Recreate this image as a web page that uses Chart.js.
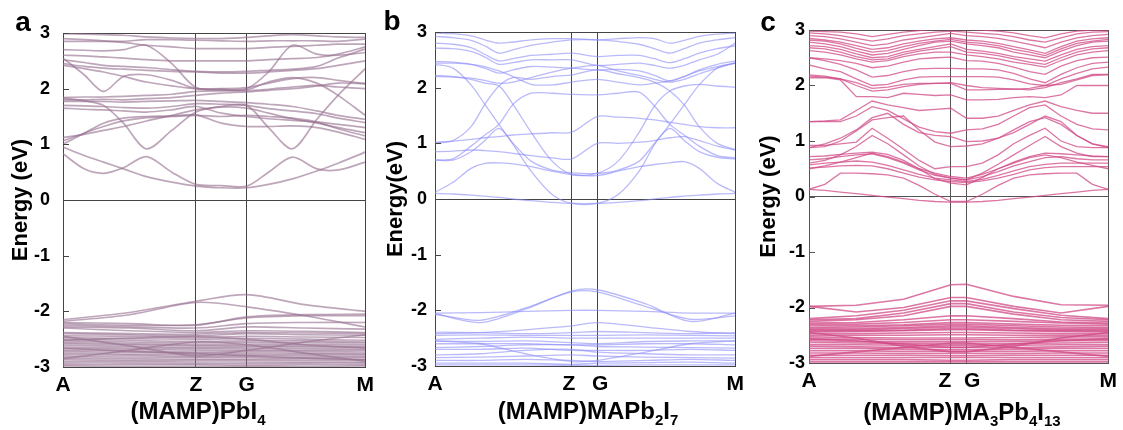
<!DOCTYPE html>
<html>
<head>
<meta charset="utf-8">
<script src="https://cdn.jsdelivr.net/npm/chart.js@4.4.1/dist/chart.umd.min.js"></script>
<style>
  body { margin: 0; background: #fff; font-family: 'Liberation Sans', Arial, sans-serif; }
  #page { position: relative; width: 1123px; height: 430px; overflow: hidden; }
  canvas { position: absolute; top: 0; }
  .letter { position: absolute; font-weight: bold; font-size: 28px; line-height: 1; transform: translate(-50%, -50%); }
  .caption { position: absolute; font-weight: bold; font-size: 24px; line-height: 1; transform: translate(-50%, -50%); white-space: nowrap; }
  .caption sub { font-size: 15px; vertical-align: -6px; line-height: 0; }
</style>
</head>
<body>
<div id="page">
  <canvas id="chartA" width="380" height="400" style="left:0"></canvas>
  <canvas id="chartB" width="375" height="400" style="left:375px"></canvas>
  <canvas id="chartC" width="373" height="400" style="left:750px"></canvas>
  <div class="letter" style="left:23px;top:22px">a</div>
  <div class="letter" style="left:392px;top:21px">b</div>
  <div class="letter" style="left:768px;top:22px">c</div>
  <div class="caption" style="left:198px;top:411px">(MAMP)PbI<sub>4</sub></div>
  <div class="caption" style="left:588px;top:411px">(MAMP)MAPb<sub>2</sub>I<sub>7</sub></div>
  <div class="caption" style="left:962px;top:412px">(MAMP)MA<sub>3</sub>Pb<sub>4</sub>I<sub>13</sub></div>
</div>
<script>
// ---- panel a : (MAMP)PbI4 ----
const aTicks = [0, 0.44, 0.608, 1];
const aLabels = ['A', 'Z', 'G', 'M'];
const aK = [0, 0.07, 0.134, 0.2, 0.276, 0.36, 0.44, 0.524, 0.608, 0.68, 0.759, 0.84, 0.91, 1];
const aConduction = [
  [0.95, 0.8, 0.68, 0.56, 0.42, 0.32, 0.25, 0.22, 0.22, 0.28, 0.38, 0.52, 0.66, 0.86],
  [0.83, 0.56, 0.48, 0.58, 0.78, 0.5, 0.28, 0.26, 0.25, 0.5, 0.77, 0.56, 0.54, 0.68],
  [1.83, 1.78, 1.7, 1.38, 0.92, 1.25, 1.58, 1.68, 1.7, 1.3, 0.92, 1.45, 1.88, 2.36],
  [1.12, 1.18, 1.25, 1.32, 1.42, 1.52, 1.62, 1.67, 1.65, 1.56, 1.46, 1.38, 1.3, 1.21],
  [1.06, 1.2, 1.32, 1.42, 1.48, 1.5, 1.52, 1.5, 1.52, 1.5, 1.47, 1.4, 1.28, 1.15],
  [1.0, 1.2, 1.38, 1.47, 1.5, 1.51, 1.53, 1.38, 1.32, 1.32, 1.33, 1.3, 1.22, 1.09],
  [1.84, 1.85, 1.85, 1.86, 1.88, 1.9, 1.95, 1.96, 1.96, 1.99, 2.03, 2.06, 2.03, 2.0],
  [1.8, 1.8, 1.81, 1.8, 1.82, 1.84, 1.88, 1.92, 1.94, 1.97, 2.0, 2.05, 2.1, 2.09],
  [1.77, 1.77, 1.77, 1.76, 1.77, 1.78, 1.79, 1.77, 1.75, 1.72, 1.68, 1.6, 1.52, 1.45],
  [1.7, 1.69, 1.68, 1.66, 1.65, 1.68, 1.73, 1.72, 1.7, 1.64, 1.6, 1.55, 1.47, 1.39],
  [1.65, 1.63, 1.62, 1.6, 1.58, 1.62, 1.68, 1.56, 1.5, 1.46, 1.43, 1.4, 1.36, 1.3],
  [2.55, 2.25, 1.95, 2.22, 2.25, 2.15, 2.0, 1.98, 1.98, 2.12, 2.2, 2.1, 1.88, 1.52],
  [2.7, 2.69, 2.68, 2.7, 2.78, 2.45, 2.02, 1.99, 2.0, 2.3, 2.78, 2.62, 2.6, 2.65],
  [2.45, 2.4, 2.37, 2.35, 2.33, 2.31, 2.3, 2.28, 2.28, 2.3, 2.33, 2.36, 2.42, 2.5],
  [2.52, 2.47, 2.42, 2.4, 2.38, 2.34, 2.31, 2.3, 2.31, 2.33, 2.35, 2.4, 2.55, 2.71],
  [2.6, 2.59, 2.57, 2.55, 2.52, 2.5, 2.5, 2.5, 2.5, 2.52, 2.54, 2.56, 2.62, 2.75],
  [2.9, 2.88, 2.86, 2.83, 2.78, 2.75, 2.72, 2.72, 2.72, 2.74, 2.76, 2.78, 2.8, 2.8],
  [2.85, 2.85, 2.85, 2.85, 2.88, 2.88, 2.87, 2.86, 2.85, 2.86, 2.86, 2.86, 2.85, 2.89],
  [2.99, 2.98, 2.97, 2.96, 2.93, 2.91, 2.9, 2.9, 2.92, 2.95, 2.97, 2.95, 2.93, 2.92],
  [2.42, 2.36, 2.3, 2.22, 2.12, 2.05, 2.0, 2.0, 2.02, 2.1, 2.18, 2.2, 2.15, 2.09]
];
const aValenceK = [0, 0.22, 0.44, 0.608, 0.8, 1];
const aValence = [
  [-2.15, -2.02, -1.82, -1.7, -1.88, -2.0],
  [-2.18, -2.06, -1.84, -1.92, -2.08, -2.28],
  [-2.2, -2.22, -2.25, -2.1, -2.06, -2.05],
  [-2.22, -2.25, -2.24, -2.12, -2.08, -2.08],
  [-2.25, -2.28, -2.3, -2.22, -2.2, -2.2],
  [-2.28, -2.3, -2.35, -2.28, -2.3, -2.32],
  [-2.3, -2.35, -2.38, -2.35, -2.36, -2.38],
  [-2.4, -2.42, -2.44, -2.4, -2.42, -2.43],
  [-2.44, -2.45, -2.47, -2.45, -2.46, -2.47],
  [-2.47, -2.49, -2.5, -2.49, -2.5, -2.52],
  [-2.5, -2.52, -2.54, -2.53, -2.53, -2.55],
  [-2.53, -2.55, -2.57, -2.56, -2.56, -2.57],
  [-2.56, -2.58, -2.6, -2.59, -2.59, -2.6],
  [-2.58, -2.6, -2.62, -2.62, -2.62, -2.63],
  [-2.61, -2.63, -2.65, -2.64, -2.64, -2.65],
  [-2.64, -2.66, -2.67, -2.67, -2.67, -2.68],
  [-2.67, -2.68, -2.7, -2.7, -2.7, -2.7],
  [-2.7, -2.71, -2.73, -2.72, -2.72, -2.73],
  [-2.72, -2.74, -2.75, -2.75, -2.75, -2.76],
  [-2.75, -2.77, -2.78, -2.78, -2.77, -2.78],
  [-2.78, -2.79, -2.81, -2.8, -2.8, -2.81],
  [-2.81, -2.82, -2.83, -2.83, -2.83, -2.83],
  [-2.84, -2.85, -2.86, -2.86, -2.85, -2.86],
  [-2.87, -2.88, -2.88, -2.88, -2.88, -2.88],
  [-2.9, -2.9, -2.91, -2.91, -2.91, -2.91],
  [-2.93, -2.93, -2.94, -2.94, -2.93, -2.93],
  [-2.96, -2.96, -2.96, -2.97, -2.96, -2.96],
  [-2.98, -2.99, -2.99, -2.99, -2.99, -2.98],
  [-2.45, -2.62, -2.8, -2.7, -2.55, -2.42],
  [-2.85, -2.7, -2.55, -2.6, -2.75, -2.9],
  [-2.38, -2.4, -2.41, -2.38, -2.39, -2.4],
  [-2.52, -2.48, -2.45, -2.5, -2.6, -2.66],
  [-2.66, -2.72, -2.76, -2.8, -2.84, -2.87]
];

// ---- panel b : (MAMP)MAPb2I7 ----
const bTicks = [0, 0.456, 0.54, 1];
const bLabels = ['A', 'Z ', ' G', 'M'];
const bK = [0, 0.06, 0.12, 0.166, 0.213, 0.26, 0.32, 0.39, 0.456, 0.54, 0.61, 0.68, 0.731, 0.782, 0.83, 0.88, 0.94, 1];
const bConduction = [
  [0.1, 0.09, 0.07, 0.05, 0.03, 0.0, -0.03, -0.06, -0.08, -0.08, -0.06, -0.03, 0.0, 0.03, 0.05, 0.07, 0.09, 0.1],
  [2.42, 2.35, 2.05, 1.7, 1.34, 0.98, 0.5, 0.08, -0.08, -0.08, 0.08, 0.5, 0.98, 1.34, 1.69, 2.05, 2.35, 2.44],
  [2.22, 2.2, 2.15, 2.08, 2.03, 1.7, 1.2, 0.68, 0.44, 0.46, 0.68, 1.2, 1.67, 1.94, 2.03, 2.06, 2.03, 2.01],
  [1.0, 1.05, 1.3, 1.7, 2.03, 2.18, 2.15, 2.2, 2.23, 2.32, 2.25, 2.18, 2.1, 1.94, 1.69, 1.3, 1.0, 0.89],
  [0.7, 0.72, 0.95, 1.15, 1.34, 1.7, 1.9, 1.9, 1.88, 1.87, 1.9, 1.92, 1.67, 1.34, 1.15, 0.95, 0.78, 0.74],
  [0.7, 0.7, 0.85, 1.05, 1.27, 1.0, 0.68, 0.52, 0.47, 0.46, 0.52, 0.68, 1.0, 1.27, 1.05, 0.85, 0.75, 0.72],
  [0.12, 0.3, 0.55, 0.64, 0.65, 0.63, 0.58, 0.5, 0.44, 0.42, 0.5, 0.58, 0.62, 0.65, 0.67, 0.55, 0.28, 0.12],
  [1.02, 1.04, 1.07, 1.1, 1.12, 1.15, 1.17, 1.19, 1.2, 1.48, 1.47, 1.45, 1.42, 1.38, 1.34, 1.3, 1.28, 1.28],
  [0.85, 0.86, 0.88, 0.87, 0.85, 0.82, 0.78, 0.74, 0.72, 1.0, 1.0, 1.02, 1.05, 1.1, 1.12, 1.05, 0.95, 0.88],
  [2.98, 2.97, 2.93, 2.86, 2.8, 2.82, 2.86, 2.88, 2.88, 2.86, 2.88, 2.9, 2.88, 2.8, 2.85, 2.92, 2.96, 2.98],
  [2.92, 2.9, 2.85, 2.75, 2.62, 2.68, 2.76, 2.82, 2.86, 2.86, 2.83, 2.78, 2.7, 2.62, 2.7, 2.8, 2.86, 2.9],
  [2.8, 2.78, 2.72, 2.6, 2.48, 2.52, 2.58, 2.6, 2.62, 2.56, 2.58, 2.58, 2.52, 2.45, 2.52, 2.62, 2.7, 2.75],
  [2.71, 2.7, 2.65, 2.55, 2.42, 2.45, 2.5, 2.5, 2.5, 2.4, 2.42, 2.44, 2.4, 2.35, 2.4, 2.5, 2.6, 2.8],
  [2.47, 2.46, 2.42, 2.35, 2.26, 2.32, 2.38, 2.37, 2.35, 2.32, 2.33, 2.3, 2.22, 2.12, 2.2, 2.32, 2.42, 2.48],
  [2.44, 2.44, 2.42, 2.38, 2.3, 2.2, 2.06, 2.05, 2.1, 2.15, 2.1, 2.05, 2.08, 2.12, 2.2, 2.3, 2.38, 2.44],
  [2.2, 2.19, 2.17, 2.13, 2.08, 2.1, 2.18, 2.28, 2.35, 2.4, 2.3, 2.22, 2.15, 2.1, 2.15, 2.25, 2.35, 2.45]
];
const bValenceK = [0, 0.15, 0.3, 0.456, 0.54, 0.7, 0.85, 1];
const bValence = [
  [-2.06, -2.22, -1.98, -1.65, -1.63, -1.88, -2.2, -2.05],
  [-2.05, -2.04, -2.02, -2.0, -2.0, -2.02, -2.05, -2.05],
  [-2.07, -2.18, -1.96, -1.67, -1.67, -1.93, -2.16, -2.1],
  [-2.42, -2.4, -2.35, -2.28, -2.22, -2.3, -2.38, -2.42],
  [-2.39, -2.4, -2.42, -2.4, -2.38, -2.4, -2.42, -2.4],
  [-2.45, -2.44, -2.45, -2.45, -2.45, -2.44, -2.45, -2.46],
  [-2.52, -2.5, -2.48, -2.5, -2.5, -2.5, -2.5, -2.5],
  [-2.55, -2.56, -2.55, -2.58, -2.6, -2.56, -2.55, -2.55],
  [-2.6, -2.6, -2.6, -2.62, -2.62, -2.6, -2.6, -2.62],
  [-2.67, -2.65, -2.62, -2.62, -2.65, -2.66, -2.67, -2.68],
  [-2.7, -2.7, -2.68, -2.72, -2.72, -2.72, -2.7, -2.72],
  [-2.8, -2.78, -2.72, -2.7, -2.75, -2.78, -2.8, -2.8],
  [-2.85, -2.84, -2.82, -2.8, -2.82, -2.84, -2.85, -2.86],
  [-2.9, -2.9, -2.88, -2.9, -2.92, -2.9, -2.88, -2.9],
  [-2.95, -2.95, -2.95, -2.97, -2.95, -2.94, -2.93, -2.95],
  [-2.98, -2.98, -2.98, -2.99, -2.99, -2.98, -2.98, -2.98],
  [-2.55, -2.6, -2.78, -2.92, -2.9, -2.75, -2.6, -2.55]
];

// ---- panel c : (MAMP)MA3Pb4I13 ----
const cTicks = [0, 0.474, 0.526, 1];
const cLabels = ['A', 'Z  ', '  G', 'M'];
const cK = [0, 0.053, 0.105, 0.158, 0.211, 0.263, 0.316, 0.368, 0.421, 0.474, 0.526, 0.579, 0.632, 0.684, 0.737, 0.789, 0.842, 0.895, 0.947, 1];
const cConduction = [
  [0.13, 0.11, 0.08, 0.05, 0.02, -0.01, -0.04, -0.07, -0.09, -0.1, -0.1, -0.09, -0.07, -0.04, -0.01, 0.02, 0.05, 0.08, 0.11, 0.13],
  [0.13, 0.22, 0.42, 0.42, 0.41, 0.39, 0.33, 0.2, 0.04, -0.09, -0.09, 0.04, 0.2, 0.33, 0.39, 0.41, 0.42, 0.42, 0.22, 0.13],
  [0.51, 0.53, 0.55, 0.56, 0.55, 0.5, 0.42, 0.35, 0.3, 0.27, 0.25, 0.28, 0.33, 0.4, 0.48, 0.52, 0.54, 0.54, 0.54, 0.54],
  [0.57, 0.6, 0.62, 0.64, 0.62, 0.56, 0.48, 0.4, 0.33, 0.3, 0.27, 0.31, 0.38, 0.46, 0.54, 0.58, 0.6, 0.6, 0.6, 0.6],
  [0.66, 0.68, 0.72, 0.75, 0.77, 0.7, 0.6, 0.48, 0.38, 0.33, 0.3, 0.36, 0.45, 0.55, 0.63, 0.7, 0.72, 0.68, 0.66, 0.66],
  [0.72, 0.73, 0.76, 0.78, 0.8, 0.76, 0.65, 0.5, 0.32, 0.24, 0.21, 0.34, 0.5, 0.62, 0.72, 0.78, 0.77, 0.75, 0.73, 0.72],
  [0.88, 0.95, 1.05, 1.2, 1.42, 1.5, 1.3, 1.15, 1.1, 1.08, 0.99, 1.0, 1.05, 1.15, 1.3, 1.45, 1.35, 1.1, 0.95, 0.88],
  [0.92, 0.92, 0.95, 0.98, 1.23, 1.05, 0.85, 0.65, 0.5, 0.54, 0.54, 0.6, 0.75, 0.95, 1.1, 1.23, 1.0, 0.9, 0.88, 0.88],
  [0.6, 0.65, 0.75, 0.9, 1.1, 0.95, 0.75, 0.55, 0.4, 0.33, 0.3, 0.42, 0.58, 0.75, 0.92, 1.08, 0.9, 0.78, 0.72, 0.72],
  [1.35, 1.35, 1.35, 1.45, 1.62, 1.55, 1.4, 1.25, 1.17, 1.14, 1.2, 1.22, 1.3, 1.45, 1.6, 1.65, 1.45, 1.3, 1.22, 1.2],
  [1.35, 1.36, 1.38, 1.55, 1.72, 1.65, 1.6, 1.55, 1.57, 1.59, 1.41, 1.41, 1.45, 1.55, 1.65, 1.72, 1.62, 1.55, 1.5, 1.5],
  [0.88, 0.9, 1.0, 1.18, 1.38, 1.42, 1.45, 1.2, 0.98, 0.9, 0.91, 0.95, 1.05, 1.2, 1.35, 1.42, 1.3, 1.1, 0.95, 0.9],
  [0.5, 0.55, 0.62, 0.7, 0.78, 0.72, 0.62, 0.5, 0.42, 0.36, 0.33, 0.4, 0.5, 0.6, 0.7, 0.75, 0.7, 0.62, 0.56, 0.5],
  [2.14, 2.14, 2.1, 1.8, 1.8, 1.78, 1.86, 1.84, 1.82, 1.83, 1.74, 1.74, 1.75, 1.78, 1.8, 1.78, 1.83, 2.0, 2.0, 2.0],
  [2.17, 2.15, 2.12, 2.05, 1.95, 1.97, 2.02, 2.04, 2.04, 2.04, 1.92, 1.92, 1.93, 1.93, 1.95, 2.0, 2.02, 2.1, 2.18, 2.19],
  [2.37, 2.3, 2.25, 2.12, 2.0, 2.02, 2.1, 2.15, 2.16, 2.16, 2.16, 2.16, 2.15, 2.1, 2.03, 2.0, 2.12, 2.22, 2.3, 2.33],
  [2.5, 2.45, 2.38, 2.28, 2.15, 2.18, 2.25, 2.3, 2.31, 2.31, 2.3, 2.3, 2.28, 2.22, 2.12, 2.05, 2.2, 2.32, 2.4, 2.42],
  [2.5, 2.48, 2.45, 2.4, 2.32, 2.35, 2.42, 2.48, 2.5, 2.51, 2.45, 2.44, 2.4, 2.33, 2.25, 2.2, 2.35, 2.45, 2.5, 2.51],
  [2.63, 2.6, 2.55, 2.48, 2.42, 2.45, 2.52, 2.57, 2.6, 2.6, 2.55, 2.52, 2.48, 2.42, 2.38, 2.33, 2.45, 2.55, 2.6, 2.63],
  [2.72, 2.7, 2.65, 2.57, 2.5, 2.52, 2.6, 2.65, 2.7, 2.75, 2.65, 2.62, 2.58, 2.52, 2.48, 2.44, 2.55, 2.65, 2.7, 2.72],
  [2.78, 2.75, 2.7, 2.62, 2.55, 2.58, 2.65, 2.72, 2.78, 2.8, 2.75, 2.72, 2.68, 2.6, 2.55, 2.5, 2.62, 2.72, 2.78, 2.8],
  [2.85, 2.82, 2.78, 2.72, 2.65, 2.68, 2.75, 2.8, 2.84, 2.86, 2.82, 2.8, 2.76, 2.7, 2.64, 2.58, 2.7, 2.8, 2.84, 2.86],
  [2.9, 2.88, 2.84, 2.78, 2.72, 2.75, 2.82, 2.86, 2.9, 2.94, 2.9, 2.88, 2.85, 2.8, 2.74, 2.68, 2.78, 2.86, 2.9, 2.92],
  [2.95, 2.93, 2.9, 2.85, 2.8, 2.84, 2.9, 2.93, 2.96, 2.98, 2.96, 2.94, 2.92, 2.88, 2.82, 2.78, 2.86, 2.93, 2.96, 2.97],
  [2.98, 2.97, 2.96, 2.93, 2.88, 2.92, 2.96, 2.99, 3.02, 3.05, 3.02, 3.0, 2.98, 2.95, 2.9, 2.86, 2.93, 2.98, 3.0, 3.0],
  [2.19, 2.17, 2.12, 2.0, 1.9, 1.92, 1.98, 2.02, 2.04, 2.05, 2.0, 1.96, 1.95, 1.94, 1.92, 1.96, 2.05, 2.12, 2.2, 2.2],
  [2.68, 2.66, 2.6, 2.52, 2.46, 2.48, 2.56, 2.62, 2.66, 2.7, 2.6, 2.58, 2.54, 2.48, 2.42, 2.38, 2.5, 2.6, 2.66, 2.68],
  [2.82, 2.8, 2.75, 2.67, 2.6, 2.63, 2.7, 2.76, 2.8, 2.83, 2.78, 2.76, 2.72, 2.65, 2.6, 2.54, 2.66, 2.76, 2.8, 2.83]
];
const cValenceK = [0, 0.158, 0.316, 0.474, 0.526, 0.684, 0.842, 1];
const cValence = [
  [-1.98, -1.96, -1.85, -1.59, -1.58, -1.8, -1.95, -1.96],
  [-1.98, -2.08, -2.0, -1.82, -1.82, -1.98, -2.1, -1.98],
  [-2.2, -2.15, -2.05, -1.88, -1.88, -2.02, -2.14, -2.2],
  [-2.22, -2.2, -2.1, -1.93, -1.93, -2.08, -2.18, -2.22],
  [-2.25, -2.22, -2.15, -1.98, -1.98, -2.12, -2.22, -2.25],
  [-2.28, -2.27, -2.22, -2.15, -2.15, -2.2, -2.26, -2.28],
  [-2.3, -2.3, -2.27, -2.22, -2.22, -2.25, -2.28, -2.3],
  [-2.33, -2.33, -2.31, -2.27, -2.27, -2.3, -2.32, -2.33],
  [-2.36, -2.35, -2.33, -2.3, -2.3, -2.33, -2.35, -2.36],
  [-2.38, -2.38, -2.36, -2.33, -2.33, -2.36, -2.38, -2.38],
  [-2.4, -2.4, -2.38, -2.35, -2.35, -2.38, -2.4, -2.4],
  [-2.42, -2.42, -2.41, -2.38, -2.38, -2.41, -2.42, -2.42],
  [-2.44, -2.43, -2.42, -2.4, -2.4, -2.42, -2.43, -2.44],
  [-2.47, -2.47, -2.46, -2.45, -2.45, -2.46, -2.47, -2.47],
  [-2.5, -2.5, -2.5, -2.49, -2.49, -2.5, -2.5, -2.5],
  [-2.53, -2.54, -2.55, -2.55, -2.55, -2.54, -2.53, -2.53],
  [-2.57, -2.57, -2.58, -2.58, -2.58, -2.58, -2.57, -2.57],
  [-2.6, -2.61, -2.62, -2.62, -2.62, -2.61, -2.6, -2.6],
  [-2.63, -2.64, -2.65, -2.66, -2.66, -2.65, -2.64, -2.63],
  [-2.67, -2.67, -2.68, -2.69, -2.69, -2.68, -2.67, -2.67],
  [-2.7, -2.71, -2.72, -2.72, -2.72, -2.72, -2.71, -2.7],
  [-2.74, -2.74, -2.75, -2.76, -2.76, -2.75, -2.74, -2.74],
  [-2.78, -2.78, -2.79, -2.79, -2.79, -2.79, -2.78, -2.78],
  [-2.82, -2.82, -2.83, -2.83, -2.83, -2.83, -2.82, -2.82],
  [-2.86, -2.86, -2.86, -2.87, -2.87, -2.86, -2.86, -2.86],
  [-2.9, -2.9, -2.9, -2.9, -2.9, -2.9, -2.9, -2.9],
  [-2.94, -2.94, -2.94, -2.95, -2.95, -2.94, -2.94, -2.94],
  [-2.98, -2.98, -2.98, -2.98, -2.98, -2.98, -2.98, -2.98],
  [-2.45, -2.55, -2.7, -2.8, -2.8, -2.7, -2.55, -2.45],
  [-2.56, -2.6, -2.66, -2.72, -2.72, -2.66, -2.6, -2.56],
  [-2.88, -2.8, -2.72, -2.64, -2.64, -2.72, -2.8, -2.88]
];

const FONT = "'Liberation Sans', Arial, sans-serif";

function bandSets(k, bands, color, width, tension) {
  return bands.map(b => ({
    data: b.map((e, i) => ({ x: k[i], y: e })),
    borderColor: color,
    borderWidth: width,
    pointRadius: 0,
    tension: tension,
    fill: false,
    clip: 0
  }));
}

// short inward tick marks on the left axis
const innerTicks = {
  id: 'innerTicks',
  afterDraw(chart, args, opts) {
    const { ctx, chartArea, scales } = chart;
    ctx.save();
    ctx.strokeStyle = opts.color;
    ctx.lineWidth = 1;
    scales.y.ticks.forEach(t => {
      const y = Math.round(scales.y.getPixelForValue(t.value)) + 0.5;
      ctx.beginPath();
      ctx.moveTo(chartArea.left, y);
      ctx.lineTo(chartArea.left + 6, y);
      ctx.stroke();
    });
    ctx.restore();
  }
};

function makePanel(id, p) {
  const datasets = bandSets(p.vk, p.vb, p.color, p.vWidth, p.tension)
    .concat(bandSets(p.k, p.cb, p.color, p.cWidth, p.tension));
  return new Chart(document.getElementById(id), {
    type: 'line',
    data: { datasets },
    plugins: [innerTicks],
    options: {
      responsive: false,
      animation: false,
      devicePixelRatio: 1,
      layout: { padding: { left: p.padLeft, top: p.padTop, right: p.padRight, bottom: 0 } },
      plugins: {
        legend: { display: false },
        tooltip: { enabled: false },
        innerTicks: { color: p.frame }
      },
      scales: {
        x: {
          type: 'linear',
          min: 0,
          max: 1,
          afterBuildTicks: s => { s.ticks = p.ticks.map(v => ({ value: v })); },
          afterFit: s => { s.height = p.xHeight; },
          ticks: {
            autoSkip: false,
            maxRotation: 0,
            padding: 6,
            color: '#000',
            font: { family: FONT, size: 21, weight: 'bold' },
            callback: (v, i) => p.labels[i]
          },
          grid: { color: p.frame, lineWidth: 1, drawTicks: false },
          border: { color: p.frame, width: 1 }
        },
        y: {
          min: -3,
          max: 3,
          afterFit: s => { s.width = p.yWidth; },
          ticks: {
            stepSize: 1,
            padding: p.tickPad,
            color: '#000',
            font: { family: FONT, size: 18, weight: 'bold' }
          },
          grid: {
            drawTicks: false,
            lineWidth: 1,
            color: c => (c.tick && (c.tick.value === 0 || c.tick.value === 3)) ? p.frame : 'rgba(0,0,0,0)'
          },
          border: { color: p.frame, width: 1 },
          title: {
            display: true,
            text: p.yTitle,
            color: '#000',
            padding: 0,
            font: { family: FONT, size: 22, weight: 'bold', lineHeight: 1.2 }
          }
        }
      }
    }
  });
}

makePanel('chartA', {
  k: aK, cb: aConduction, vk: aValenceK, vb: aValence, ticks: aTicks, labels: aLabels,
  color: 'rgba(150, 112, 144, 0.62)', frame: '#444', tension: 0.3, cWidth: 1.7, vWidth: 1.6,
  yTitle: 'Energy (eV)', padLeft: 8, padTop: 33, padRight: 13, yWidth: 55, xHeight: 33, tickPad: 13
});
makePanel('chartB', {
  k: bK, cb: bConduction, vk: bValenceK, vb: bValence, ticks: bTicks, labels: bLabels,
  color: 'rgba(140, 140, 248, 0.6)', frame: '#444', tension: 0.3, cWidth: 1.3, vWidth: 1.3,
  yTitle: 'Energy(eV)', padLeft: 8, padTop: 32, padRight: 12, yWidth: 52, xHeight: 34, tickPad: 8
});
makePanel('chartC', {
  k: cK, cb: cConduction, vk: cValenceK, vb: cValence, ticks: cTicks, labels: cLabels,
  color: 'rgba(208, 72, 134, 0.75)', frame: '#555', tension: 0, cWidth: 1.3, vWidth: 1.6,
  yTitle: 'Energy (eV)', padLeft: 6, padTop: 30, padRight: 11, yWidth: 53, xHeight: 37, tickPad: 4
});
</script>
</body>
</html>
